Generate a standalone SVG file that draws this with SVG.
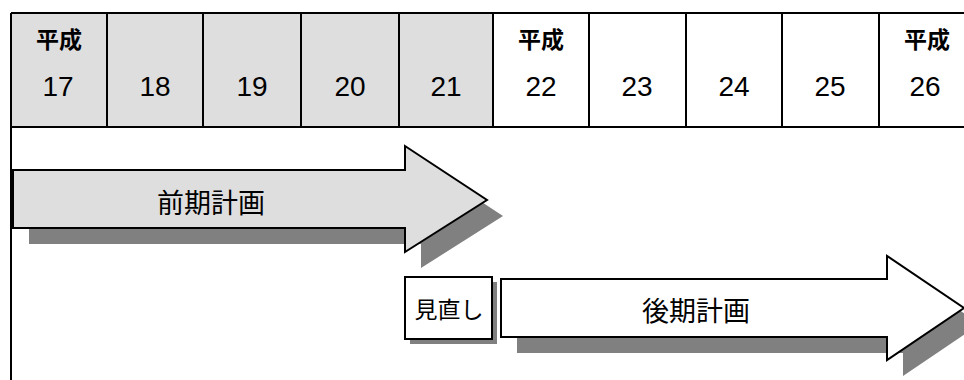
<svg xmlns="http://www.w3.org/2000/svg" width="964" height="380" viewBox="0 0 964 380">
<style>
.grid{stroke:#000;stroke-width:2;fill:none}
.era{font-family:"Noto Sans CJK JP","Noto Sans",sans-serif;font-size:23px;font-weight:bold;fill:#000;text-anchor:middle;dominant-baseline:central}
.yr{font-family:"Liberation Sans",Arial,sans-serif;font-size:28px;fill:#000;text-anchor:middle}
.lbl{font-family:"Noto Sans CJK JP","Noto Sans",sans-serif;fill:#000;text-anchor:middle;dominant-baseline:central}
.shadow{fill:#808080}
.shape{stroke:#000;stroke-width:2;stroke-linejoin:miter}
</style>
<rect width="964" height="380" fill="#fff"/>
<g id="timeline">
<rect x="11" y="13" width="482" height="114" fill="#dedede"/>
<path class="grid" d="M11,13H964M11,127H964M11,13V380M107,13V127M203,13V127M301,13V127M399,13V127M493,13V127M589,13V127M686,13V127M782,13V127M879,13V127"/>
<text class="era" x="59" y="38">平成</text>
<text class="era" x="541" y="38">平成</text>
<text class="era" x="927" y="38">平成</text>
<text class="yr" x="58" y="96">17</text>
<text class="yr" x="155" y="96">18</text>
<text class="yr" x="252" y="96">19</text>
<text class="yr" x="350" y="96">20</text>
<text class="yr" x="446" y="96">21</text>
<text class="yr" x="541" y="96">22</text>
<text class="yr" x="637" y="96">23</text>
<text class="yr" x="734" y="96">24</text>
<text class="yr" x="830" y="96">25</text>
<text class="yr" x="925" y="96">26</text>
</g>
<g id="zenki">
<polygon class="shadow" points="29,186 421,186 421,162 503,216 421,268 421,244 29,244"/>
<polygon class="shape" fill="#dedede" points="13,170 405,170 405,146 487,200 405,252 405,228 13,228"/>
<text class="lbl" x="211" y="201" font-size="27">前期計画</text>
</g>
<g id="minaoshi">
<rect class="shadow" x="410" y="282" width="87" height="62"/>
<rect class="shape" fill="#fff" x="405" y="277" width="87" height="62"/>
<text class="lbl" x="449" y="308" font-size="23">見直し</text>
</g>
<g id="kouki">
<polygon class="shadow" points="517,295 903,295 903,272 980,324 903,376 903,353 517,353"/>
<polygon class="shape" fill="#fff" points="501,279 887,279 887,256 964,308 887,360 887,337 501,337"/>
<text class="lbl" x="696" y="309" font-size="27">後期計画</text>
</g>
<g id="connectors"/>
</svg>
